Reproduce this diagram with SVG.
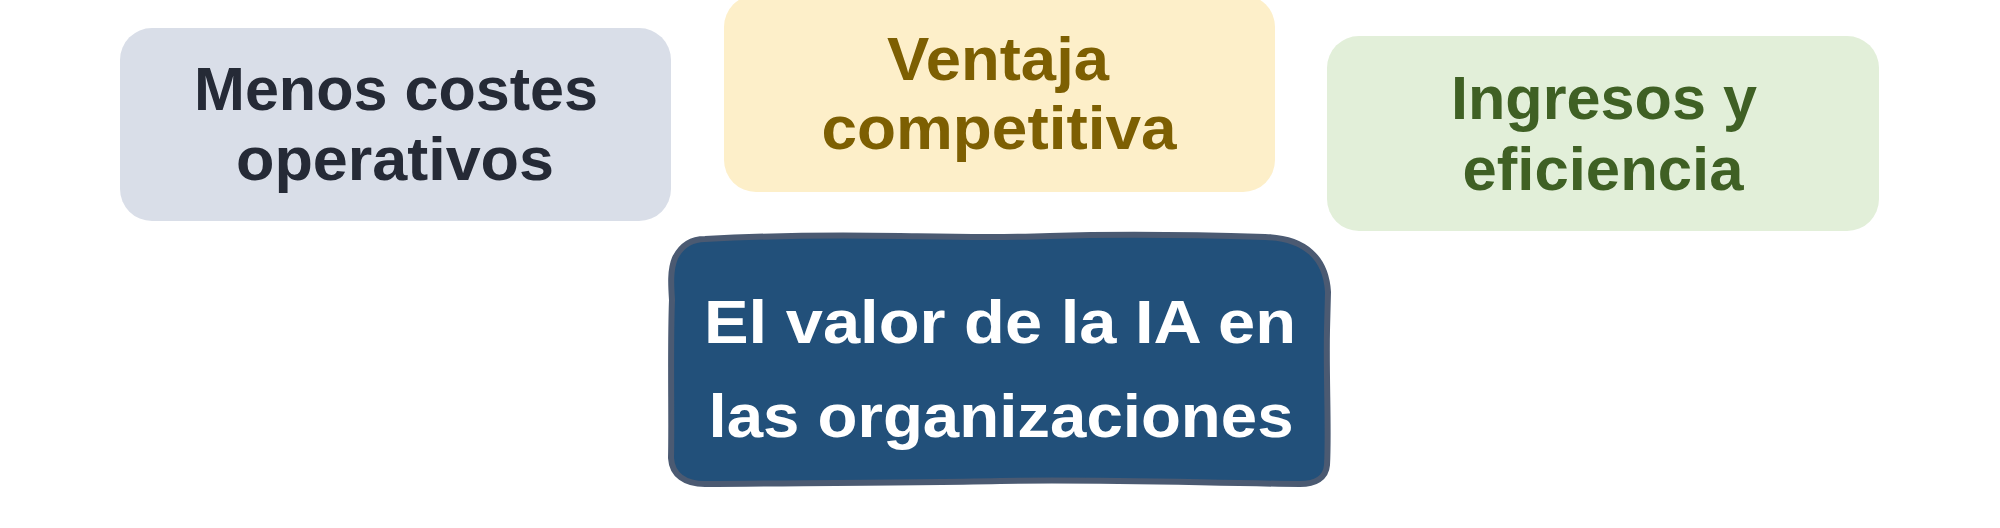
<svg xmlns="http://www.w3.org/2000/svg" width="2000" height="528" viewBox="0 0 2000 528">
  <style>
    .lbl { font-family: "Liberation Sans", Arial, sans-serif; font-weight: 700; font-size: 62px; text-anchor: middle; }
    .grey { fill: #d9dee8; }
    .yellow { fill: #fdefc9; }
    .green { fill: #e2efd9; }
    .t-grey { fill: #252a36; }
    .t-yellow { fill: #7d5f02; }
    .t-green { fill: #3f6024; }
    .t-white { fill: #ffffff; }
  </style>
  <rect x="0" y="0" width="2000" height="528" fill="#ffffff"/>
  <g id="connectors"></g>
  <g id="node-costes">
    <rect class="grey" x="120" y="28" width="551" height="193" rx="32" ry="32"/>
    <text class="lbl t-grey" x="396" y="110" textLength="404" lengthAdjust="spacingAndGlyphs">Menos costes</text>
    <text class="lbl t-grey" x="395" y="180" textLength="318" lengthAdjust="spacingAndGlyphs">operativos</text>
  </g>
  <g id="node-ventaja">
    <rect class="yellow" x="724" y="-5" width="551" height="197" rx="32" ry="32"/>
    <text class="lbl t-yellow" x="998" y="80" textLength="222" lengthAdjust="spacingAndGlyphs">Ventaja</text>
    <text class="lbl t-yellow" x="999" y="149" textLength="355" lengthAdjust="spacingAndGlyphs">competitiva</text>
  </g>
  <g id="node-ingresos">
    <rect class="green" x="1327" y="36" width="552" height="195" rx="32" ry="32"/>
    <text class="lbl t-green" x="1604" y="119" textLength="306" lengthAdjust="spacingAndGlyphs">Ingresos y</text>
    <text class="lbl t-green" x="1603" y="190" textLength="281" lengthAdjust="spacingAndGlyphs">eficiencia</text>
  </g>
  <g id="node-central">
    <path d="M 705,239 C 760,236 840,235 900,236 C 960,237 1000,238 1050,236 C 1120,234 1200,235 1265,237 C 1305,238 1326,258 1328,292 L 1327,330 C 1326,380 1329,430 1327,465 C 1326,478 1315,484 1300,484 C 1200,483 1100,479 1000,481 C 900,483 800,483 705,484 C 685,484 672,475 671,458 C 672,420 670,350 672,300 C 671,285 670,270 675,258 C 682,244 692,239 705,239 Z" fill="#22507a" stroke="#4b5a72" stroke-width="6" stroke-linejoin="round"/>
    <text class="lbl t-white" x="1000" y="343" textLength="592" lengthAdjust="spacingAndGlyphs">El valor de la IA en</text>
    <text class="lbl t-white" x="1001" y="437" textLength="585" lengthAdjust="spacingAndGlyphs">las organizaciones</text>
  </g>
</svg>
